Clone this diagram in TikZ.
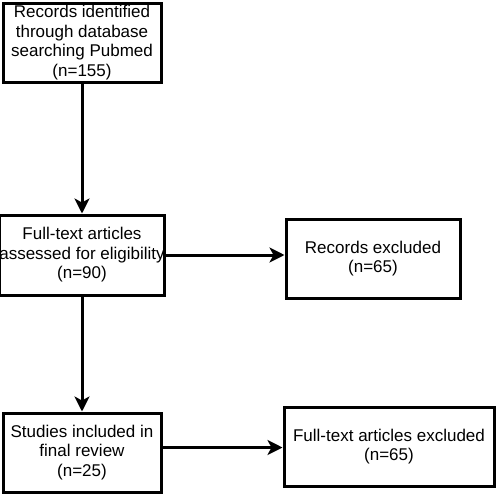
\documentclass[tikz,border=0pt]{standalone}
\usepackage{fontspec}
\setmainfont{Liberation Sans}
\usetikzlibrary{arrows.meta}
\begin{document}
\begin{tikzpicture}[x=1pt,y=1pt,
  box/.style={draw=black,line width=3pt,fill=white,align=center,inner sep=0pt,
    font=\fontsize{17}{19.5}\selectfont},
  conn/.style={line width=3pt,-{Stealth[length=15pt,width=15pt,inset=4pt]}}]
\useasboundingbox (0,0) rectangle (498,-496);
\node[box,minimum width=158pt,minimum height=79pt] (b1) at (82,-42.5) {Records identified\\through database\\searching Pubmed\\(n=155)};
\node[box,minimum width=158pt,minimum height=80pt] (b2) at (82,-255) {Full-text articles\\assessed for eligibility\\(n=90)};
\node[box,minimum width=174pt,minimum height=79pt] (b3) at (373,-258.5) {Records excluded\\(n=65)};
\node[box,minimum width=158pt,minimum height=79pt] (b4) at (82,-452.5) {Studies included in\\final review\\(n=25)};
\node[box,minimum width=210pt,minimum height=79pt] (b5) at (389,-446.5) {Full-text articles excluded\\(n=65)};
\draw[conn] (b1.south) -- (b2.north);
\draw[conn] (b2.south) -- (b4.north);
\draw[conn] (b2.east) -- (b2.east -| b3.west);
\draw[conn] ([yshift=5pt]b4.east) -- ([yshift=5pt]b4.east -| b5.west);
\end{tikzpicture}
\end{document}
